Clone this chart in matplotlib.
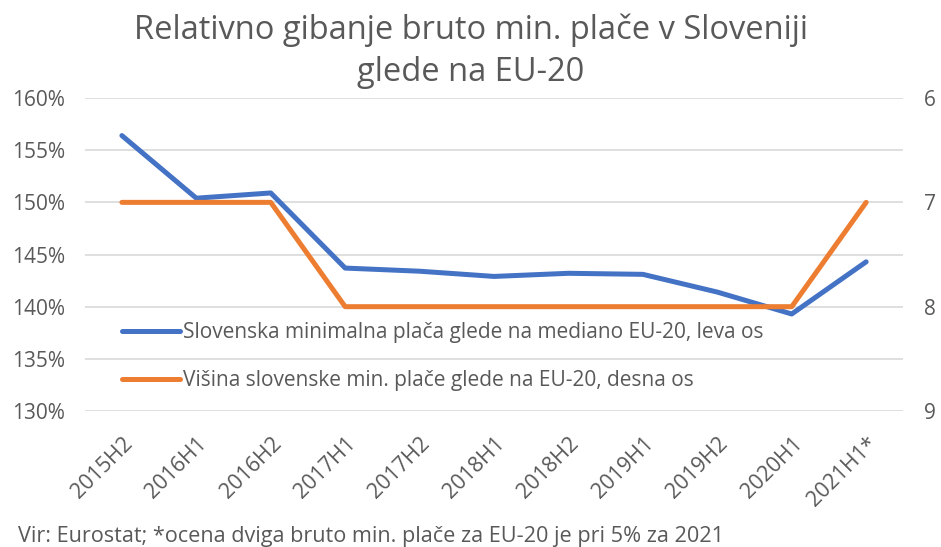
import numpy as np
import matplotlib.pyplot as plt
from matplotlib.transforms import ScaledTranslation

plt.rcParams['font.family'] = ['Open Sans', 'DejaVu Sans']

periods = ['2015H2', '2016H1', '2016H2', '2017H1', '2017H2', '2018H1',
           '2018H2', '2019H1', '2019H2', '2020H1', '2021H1*']
# relative min. wage vs. EU-20 median (left axis, %)
rel_median = [156.4, 150.4, 150.9, 143.7, 143.4, 142.9, 143.2, 143.1, 141.4, 139.3, 144.3]
# rank of Slovenian min. wage among EU-20 (right axis, inverted)
rank = [7, 7, 7, 8, 8, 8, 8, 8, 8, 8, 7]

blue = '#4472C4'
orange = '#ED7D31'
grey = '#595959'

fig = plt.figure(figsize=(9.41, 5.47), dpi=100)
ax = fig.add_axes([0.090, 0.2486, 0.870, 0.5722])
ax2 = ax.twinx()

x = np.arange(len(periods))
l1, = ax.plot(x, rel_median, color=blue, lw=3.6, solid_capstyle='round',
              label='Slovenska minimalna plača glede na mediano EU-20, leva os')
l2, = ax2.plot(x, rank, color=orange, lw=3.6, solid_capstyle='round',
               label='Višina slovenske min. plače glede na EU-20, desna os')

ax.set_xlim(-0.5, len(periods) - 0.5)
ax.set_ylim(130, 160)
ax.set_yticks(np.arange(130, 161, 5))
ax.set_yticklabels([f'{v}%' for v in range(130, 161, 5)])
ax2.set_ylim(9, 6)
ax2.set_yticks([6, 7, 8, 9])

ax.set_xticks(x)
ax.set_xticklabels(periods, rotation=45, ha='right', rotation_mode='anchor')
shift = ScaledTranslation(-5 / 72, 0, fig.dpi_scale_trans)
for lbl in ax.get_xticklabels():
    lbl.set_transform(lbl.get_transform() + shift)

ax.grid(axis='y', color='#D9D9D9', lw=1.2)
ax.set_axisbelow(True)
for a in (ax, ax2):
    for s in a.spines.values():
        s.set_visible(False)
    a.tick_params(length=0, labelsize=15, colors=grey)
ax.tick_params(axis='x', pad=16, labelsize=15.5)
ax.tick_params(axis='y', pad=14)
ax2.tick_params(axis='y', pad=15)

ax2.legend(handles=[l1, l2], loc='upper left', bbox_to_anchor=(0.035, 0.31),
           frameon=False, fontsize=15, labelcolor=grey, handlelength=2.8,
           handletextpad=0.15, labelspacing=1.3, borderaxespad=0)

fig.text(0.5, 0.945, 'Relativno gibanje bruto min. plače v Sloveniji',
         ha='center', va='center', fontsize=23.5, color=grey)
fig.text(0.5, 0.868, 'glede na EU-20', ha='center', va='center',
         fontsize=23.5, color=grey)
fig.text(0.019, 0.02, 'Vir: Eurostat; *ocena dviga bruto min. plače za EU-20 je pri 5% za 2021',
         ha='left', va='center', fontsize=15.6, color=grey)

fig.savefig('out.png', dpi=100)
